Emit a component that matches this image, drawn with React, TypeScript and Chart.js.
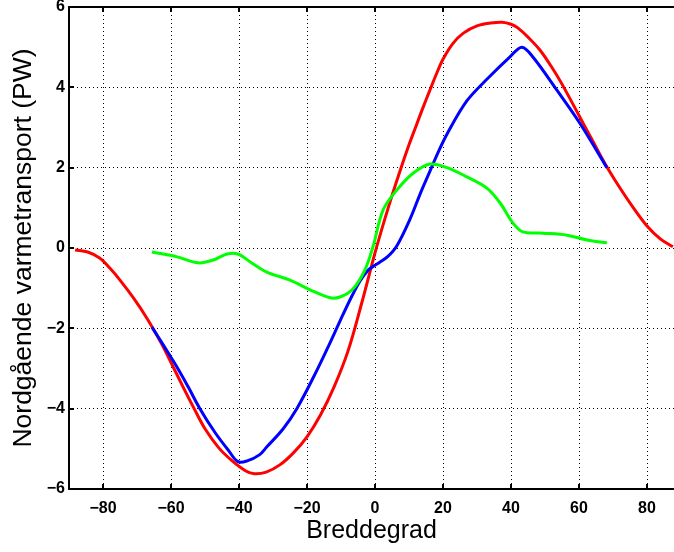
import React, { useEffect, useRef } from "react";
import { Chart, registerables } from "chart.js";

Chart.register(...registerables);

const xTicks = [-80, -60, -40, -20, 0, 20, 40, 60, 80];
const yTicks = [-6, -4, -2, 0, 2, 4, 6];

const redLat = [-88.2, -84.5, -81, -78, -75, -71, -67, -63, -60, -56.5, -53, -50, -46, -42, -38, -35.5, -32, -28, -24, -20, -16, -12, -8, -4, 0, 2, 4, 6, 8, 10, 12, 14, 16, 18, 20, 23, 26, 30, 34, 37.4, 40, 42, 45, 48.5, 52, 55, 60, 64, 68, 72, 76, 80, 84, 87.6];
const redVal = [-0.05, -0.1, -0.25, -0.5, -0.8, -1.25, -1.76, -2.35, -2.85, -3.45, -4.03, -4.5, -4.97, -5.3, -5.55, -5.62, -5.58, -5.4, -5.1, -4.7, -4.15, -3.45, -2.58, -1.4, -0.12, 0.47, 1.03, 1.57, 2.08, 2.57, 3.02, 3.47, 3.9, 4.32, 4.7, 5.1, 5.35, 5.53, 5.6, 5.62, 5.57, 5.48, 5.25, 4.93, 4.5, 4.08, 3.3, 2.67, 2.05, 1.5, 1.0, 0.55, 0.22, 0.03];

const blueLat = [-65.6, -62, -58, -55, -51.5, -47, -43, -40.3, -37.6, -34, -31.8, -27, -23, -18, -14, -10.3, -7.4, -4.4, -2, 0, 1.5, 3.8, 6.4, 10.3, 13.2, 16.2, 18.5, 21.2, 27, 32.9, 39.7, 43.2, 46.5, 53.5, 60.3, 68.2];
const blueVal = [-1.97, -2.45, -3.0, -3.45, -4.0, -4.6, -5.05, -5.32, -5.3, -5.15, -4.95, -4.5, -4.0, -3.2, -2.5, -1.82, -1.3, -0.82, -0.55, -0.43, -0.35, -0.21, 0.05, 0.72, 1.33, 1.92, 2.37, 2.84, 3.66, 4.2, 4.76, 5.0, 4.75, 3.93, 3.1, 2.0];

const greenLat = [-65.6, -58.2, -52, -47.6, -43.5, -40.3, -36.8, -31.8, -25, -19.1, -13.2, -10.3, -6.5, -3, -0.6, 2.4, 6.4, 11.2, 16.2, 21.2, 27, 32.9, 36.8, 40.6, 43.5, 49.4, 56.5, 62.4, 68.2];
const greenVal = [-0.1, -0.22, -0.37, -0.3, -0.15, -0.15, -0.34, -0.6, -0.8, -1.04, -1.24, -1.22, -1.02, -0.55, 0.03, 0.95, 1.44, 1.86, 2.09, 2.0, 1.77, 1.49, 1.12, 0.62, 0.4, 0.37, 0.32, 0.2, 0.13];

const toPts = (xs: number[], ys: number[]) => xs.map((x, i) => ({ x, y: ys[i] }));

const framePlugin = {
  id: "frame",
  afterDraw(chart: any) {
    const { ctx, chartArea: a, scales } = chart;
    ctx.save();
    ctx.strokeStyle = "#000";
    ctx.lineWidth = 2;
    ctx.setLineDash([]);
    ctx.beginPath();
    ctx.moveTo(a.right + 2, a.top);
    ctx.lineTo(a.left, a.top);
    ctx.lineTo(a.left, a.bottom);
    ctx.lineTo(a.right + 2, a.bottom);
    ctx.stroke();
    const tl = 5;
    ctx.beginPath();
    xTicks.forEach((v) => {
      const px = Math.round(scales.x.getPixelForValue(v));
      ctx.moveTo(px, a.bottom);
      ctx.lineTo(px, a.bottom - tl);
      ctx.moveTo(px, a.top);
      ctx.lineTo(px, a.top + tl);
    });
    yTicks.forEach((v) => {
      const py = Math.round(scales.y.getPixelForValue(v));
      ctx.moveTo(a.left, py);
      ctx.lineTo(a.left + tl, py);
    });
    ctx.stroke();
    ctx.restore();
  },
};

export default function App() {
  const ref = useRef<HTMLCanvasElement>(null);
  useEffect(() => {
    const ds = (data: any, color: string) => ({
      data,
      borderColor: color,
      backgroundColor: color,
      borderWidth: 3,
      pointRadius: 0,
      fill: false,
      tension: 0.35,
    });
    const chart = new Chart(ref.current!, {
      type: "line",
      data: {
        datasets: [
          ds(toPts(greenLat, greenVal), "#00ff00"),
          ds(toPts(blueLat, blueVal), "#0000ff"),
          ds(toPts(redLat, redVal), "#ff0000"),
        ],
      },
      options: {
        animation: false,
        responsive: false,
        devicePixelRatio: 1,
        layout: { padding: { top: 7, right: 0, left: 0, bottom: 0 } },
        plugins: { legend: { display: false }, tooltip: { enabled: false } },
        scales: {
          x: {
            type: "linear",
            min: -90,
            max: -90 + 605 / 3.4,
            afterBuildTicks: (s: any) => {
              s.ticks = xTicks.map((value) => ({ value }));
            },
            afterFit: (s: any) => {
              s.height = 63;
              s.paddingLeft = 0;
              s.paddingRight = 0;
            },
            grid: { color: "#000", lineWidth: 1, drawTicks: false },
            border: { display: false, dash: [1, 3] },
            ticks: {
              padding: 10,
              color: "#000",
              maxRotation: 0,
              font: { family: "Liberation Sans", size: 16, weight: "bold" },
              callback: (v: any) => String(v).replace("-", "\u2212"),
            },
            title: {
              display: true,
              text: "Breddegrad",
              color: "#000",
              font: { family: "Liberation Sans", size: 25 },
              padding: { top: 0, bottom: 6 },
            },
          },
          y: {
            type: "linear",
            min: -6,
            max: 6,
            afterBuildTicks: (s: any) => {
              s.ticks = yTicks.map((value) => ({ value }));
            },
            afterFit: (s: any) => {
              s.width = 69;
              s.paddingTop = 0;
              s.paddingBottom = 0;
            },
            grid: { color: "#000", lineWidth: 1, drawTicks: false },
            border: { display: false, dash: [1, 3] },
            ticks: {
              padding: 4,
              color: "#000",
              font: { family: "Liberation Sans", size: 16, weight: "bold" },
              callback: (v: any) => String(v).replace("-", "\u2212"),
            },
            title: {
              display: true,
              text: "Nordgående varmetransport (PW)",
              color: "#000",
              font: { family: "Liberation Sans", size: 26.5 },
              padding: { top: 8, bottom: 0 },
            },
          },
        },
      },
      plugins: [framePlugin],
    });
    return () => chart.destroy();
  }, []);
  return (
    <div style={{ position: "absolute", left: 0, top: 0, width: 674, height: 552, background: "#fff" }}>
      <canvas ref={ref} width={674} height={552} />
    </div>
  );
}
